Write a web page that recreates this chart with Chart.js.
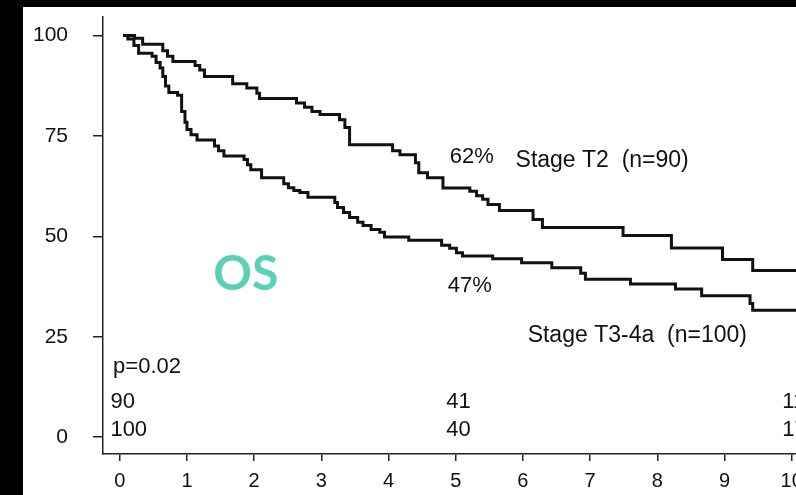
<!DOCTYPE html>
<html>
<head>
<meta charset="utf-8">
<script src="https://cdn.jsdelivr.net/npm/chart.js@4.4.1/dist/chart.umd.min.js"></script>
<style>
  html, body { margin: 0; padding: 0; background: #000; overflow: hidden; width: 796px; height: 495px; }
  .sheet { position: absolute; left: 23px; top: 7px; width: 820px; height: 488px; background: #fff; }
</style>
</head>
<body>
<div class="sheet"><canvas id="km" width="820" height="488"></canvas></div>
<script>
// Overall survival by T stage (Kaplan-Meier, % alive vs years)
const yearTicks = [0, 1, 2, 3, 4, 5, 6, 7, 8, 9, 10];
const survivalTicks = [0, 25, 50, 75, 100];

const t2Years = [0.05, 0.22, 0.34, 0.64, 0.71, 0.79, 1.12, 1.19, 1.26, 1.68, 1.89, 2.04, 2.08, 2.63, 2.75, 2.86, 2.98, 3.27, 3.35, 3.42,
  4.06, 4.17, 4.40, 4.45, 4.58, 4.81, 5.21, 5.31, 5.40, 5.48, 5.65, 6.15, 6.29, 7.49, 8.21, 8.97, 9.42, 10.1];
const t2Surv = [100, 99.3, 97.8, 96.2, 94.8, 93.5, 92.5, 91.4, 89.8, 88.0, 86.9, 85.6, 84.3, 83.2, 82.1, 81.1, 80.3, 79.0, 77.1, 72.8,
  71.3, 70.3, 68.3, 65.8, 64.6, 62.0, 61.2, 60.1, 59.2, 57.9, 56.4, 54.2, 52.2, 50.2, 47.1, 44.2, 41.5, 41.5];

const t34Years = [0.05, 0.12, 0.21, 0.28, 0.48, 0.54, 0.60, 0.64, 0.68, 0.73, 0.86, 0.92, 0.97, 1.00, 1.06, 1.15, 1.41, 1.47, 1.55, 1.85,
  1.90, 1.95, 2.11, 2.44, 2.51, 2.59, 2.68, 2.80, 3.20, 3.24, 3.33, 3.42, 3.54, 3.62, 3.74, 3.87, 3.94, 4.30, 4.79, 4.91,
  5.01, 5.10, 5.55, 5.98, 6.43, 6.86, 6.93, 7.60, 8.27, 8.66, 9.38, 9.42, 10.1];
const t34Surv = [100, 99.1, 97.5, 95.6, 94.8, 93.3, 91.9, 89.8, 87.4, 85.8, 85.1, 81.1, 78.4, 76.6, 75.3, 74.0, 72.5, 71.3, 70.0, 69.1,
  67.8, 66.6, 64.6, 63.1, 62.1, 61.4, 60.9, 59.7, 58.4, 57.2, 55.9, 54.7, 53.5, 52.7, 51.7, 51.0, 49.8, 49.0, 47.8, 47.0,
  45.9, 45.1, 44.4, 43.4, 42.2, 40.8, 39.3, 38.1, 36.9, 35.2, 33.3, 31.6, 31.6];

// numbers at risk
const atRiskYears = [0, 5, 10];
const atRiskT2 = [90, 41, 11];
const atRiskT34 = [100, 40, 17];

const FONT = '"Liberation Sans", Arial, Helvetica, sans-serif';
const INK = "#111";

function toPoints(xs, ys) {
  return xs.map((x, i) => ({ x, y: ys[i] }));
}

// text placed in data coordinates: [text, year, survival, font]
const notes = [
  ["62%", 4.91, 69.7, "22px"],
  ["Stage T2  (n=90)", 5.89, 68.8, "23px"],
  ["47%", 4.88, 37.6, "22px"],
  ["Stage T3-4a  (n=100)", 6.07, 25.2, "23px"],
  ["p=0.02", -0.10, 17.5, "22px"],
];

const textPlugin = {
  id: "kmText",
  afterDatasetsDraw(chart) {
    const { ctx, scales: { x, y } } = chart;
    ctx.save();
    ctx.fillStyle = INK;
    ctx.textAlign = "left";
    ctx.textBaseline = "middle";
    notes.forEach(([txt, t, v, size]) => {
      ctx.font = size + " " + FONT;
      ctx.fillText(txt, x.getPixelForValue(t), y.getPixelForValue(v));
    });
    ctx.font = "22px " + FONT;
    atRiskYears.forEach((t, i) => {
      const px = x.getPixelForValue(t - 0.14);
      ctx.fillText(String(atRiskT2[i]), px, y.getPixelForValue(8.75));
      ctx.fillText(String(atRiskT34[i]), px, y.getPixelForValue(1.8));
    });
    // OS tag
    ctx.fillStyle = "#5cd0b6";
    ctx.textAlign = "center";
    ctx.font = "bold 48px Lato, " + FONT;
    ctx.fillText("OS", x.getPixelForValue(1.875), y.getPixelForValue(40.4));
    ctx.restore();
  }
};

const lineStyle = {
  stepped: "before",
  borderColor: INK,
  borderWidth: 3,
  pointRadius: 0,
  fill: false,
  borderJoinStyle: "miter",
};

new Chart(document.getElementById("km"), {
  type: "line",
  data: {
    datasets: [
      Object.assign({ label: "Stage T2", data: toPoints(t2Years, t2Surv) }, lineStyle),
      Object.assign({ label: "Stage T3-4a", data: toPoints(t34Years, t34Surv) }, lineStyle),
    ],
  },
  options: {
    responsive: false,
    animation: false,
    layout: { padding: { top: 10, left: 0, right: 11, bottom: 0 } },
    plugins: { legend: { display: false }, tooltip: { enabled: false } },
    scales: {
      x: {
        type: "linear",
        min: -0.25,
        max: 10.6,
        afterBuildTicks: s => { s.ticks = yearTicks.map(v => ({ value: v })); },
        afterFit: s => { s.height = 41; s.paddingLeft = 0; s.paddingRight = 0; },
        border: { color: "#222", width: 1.5 },
        grid: { drawOnChartArea: false, drawTicks: true, tickLength: 7, color: "#222", lineWidth: 1.5 },
        ticks: { color: INK, padding: 8, maxRotation: 0, autoSkip: false, font: { family: FONT, size: 20 } },
      },
      y: {
        type: "linear",
        min: -4.2,
        max: 104.6,
        afterBuildTicks: s => { s.ticks = survivalTicks.map(v => ({ value: v })); },
        afterFit: s => { s.width = 80; s.paddingTop = 0; s.paddingBottom = 0; },
        border: { color: "#222", width: 1.5 },
        grid: { drawOnChartArea: false, drawTicks: true, tickLength: 10, color: "#222", lineWidth: 1.5 },
        ticks: { color: INK, padding: 25, font: { family: FONT, size: 21 } },
      },
    },
  },
  plugins: [textPlugin],
});
</script>
</body>
</html>
